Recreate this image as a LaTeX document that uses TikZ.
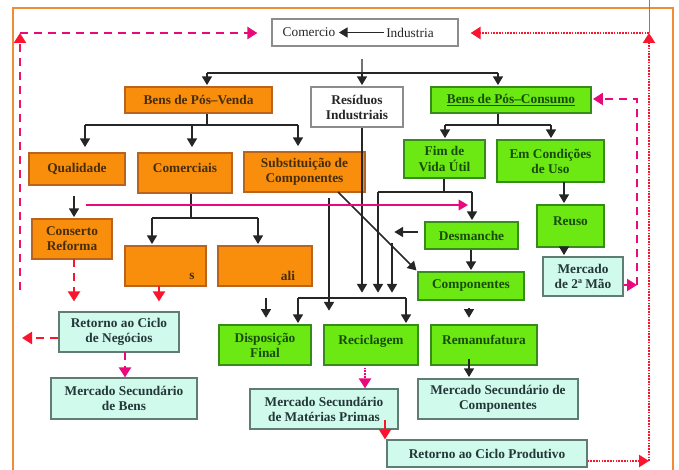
\documentclass[tikz,border=0pt]{standalone}
\usepackage{fontspec}
\setmainfont{Liberation Serif}
\usetikzlibrary{arrows.meta,calc}

\definecolor{orfill}{RGB}{248,142,12}
\definecolor{ordraw}{RGB}{185,100,30}
\definecolor{ortext}{RGB}{70,45,10}
\definecolor{grfill}{RGB}{108,232,18}
\definecolor{grdraw}{RGB}{55,140,25}
\definecolor{grtext}{RGB}{25,75,10}
\definecolor{cyfill}{RGB}{208,250,236}
\definecolor{cydraw}{RGB}{95,125,115}
\definecolor{cytext}{RGB}{35,55,55}
\definecolor{framec}{RGB}{240,140,55}
\definecolor{magc}{RGB}{232,10,125}
\definecolor{redc}{RGB}{250,20,45}
\definecolor{pinkc}{RGB}{240,20,90}

% box given by its corners (x1,y1) and (x2,y2)
\newcommand\placebox[7]{%
  \node[#1, minimum width={(#5-#3)*0.75pt}, minimum height={(#6-#4)*0.75pt}]
    (#2) at ({(#3+#5)/2},{(#4+#6)/2}) {#7};}
% label set a little above the middle of its box
\newcommand\upper[1]{\raisebox{8pt}{#1}}

\tikzset{
  box/.style={draw, line width=0.9pt, inner sep=1pt, align=center},
  orbox/.style={box, fill=orfill, draw=ordraw, text=ortext},
  grbox/.style={box, fill=grfill, draw=grdraw, text=grtext},
  cybox/.style={box, fill=cyfill, draw=cydraw, text=cytext},
  whbox/.style={box, fill=white, draw=black!45, text=black!85},
  plaintext/.style={inner sep=1.5pt},
  conn/.style={line width=1.1pt, draw=black!85},
  arr/.style={conn, -{Triangle[width=7.5pt,length=6.5pt]}, shorten >=1pt},
  bigtip/.style={-{Triangle[width=9pt,length=7.5pt]}},
  redtip/.style={-{Triangle[width=9pt,length=7.5pt,color=redc]}},
  magdash/.style={draw=magc, line width=1.7pt, dash pattern=on 6pt off 4.5pt},
  reddash/.style={draw=redc, line width=1.7pt, dash pattern=on 6pt off 4.5pt},
  pinkdash/.style={draw=pinkc, line width=1.7pt, dash pattern=on 6pt off 4.5pt},
  reddot/.style={draw=redc, line width=1.7pt, dash pattern=on 1.2pt off 0.9pt},
  magdot/.style={draw=magc, line width=1.7pt, dash pattern=on 1.2pt off 0.9pt},
}

\begin{document}
\begin{tikzpicture}[x=0.75pt, y=-0.75pt,
  font=\fontsize{10}{11.3}\selectfont\bfseries]
\useasboundingbox (0,0) rectangle (679,470);

% outer frame
\draw[framec, line width=1.5pt] (13,470) -- (13,8) -- (673,8) -- (673,470);
\draw[black!50, line width=0.6pt] (649,0) -- (649,33);

% ---------------- boxes ----------------
\placebox{whbox}{com}{272}{19}{458}{46}{}
\node[plaintext, font=\fontsize{10}{11}\selectfont, text=black!85] (comT) at (309,32.5) {Comercio};
\node[plaintext, font=\fontsize{10}{11}\selectfont, text=black!85] (indT) at (410,32.5) {Industria};

\placebox{orbox}{pv}{125}{87}{272}{113}{Bens de Pós–Venda}
\placebox{whbox}{ri}{311}{87}{403}{127}{Resíduos\\Industriais}
\placebox{grbox}{bpc}{431}{87}{591}{113}{\underline{Bens de Pós–Consumo}}

\placebox{orbox}{qual}{29}{153}{125}{185}{Qualidade}
\placebox{orbox}{com2}{138}{153}{232}{193}{\upper{Comerciais}}
\placebox{orbox}{sub}{244}{152}{365}{192}{Substituição de\\Componentes}
\placebox{orbox}{cons}{32}{219}{112}{259}{Conserto\\Reforma}
\placebox{orbox}{sbox}{125}{246}{206}{286}{}
\placebox{orbox}{abox}{218}{246}{312}{286}{}
\node[plaintext, text=ortext] (sT) at (192,276) {s};
\node[plaintext, text=ortext] (aT) at (288,276) {ali};

\placebox{cybox}{rcn}{59}{312}{179}{352}{Retorno ao Ciclo\\de Negócios}
\placebox{cybox}{msb}{51}{378}{197}{419}{Mercado Secundário\\de Bens}

\placebox{grbox}{fim}{404}{140}{485}{178}{Fim de\\Vida Útil}
\placebox{grbox}{emc}{497}{140}{604}{182}{Em Condições\\de Uso}
\placebox{grbox}{desm}{425}{222}{518}{249}{Desmanche}
\placebox{grbox}{comp}{418}{272}{524}{300}{Componentes}
\placebox{grbox}{reuso}{537}{205}{604}{247}{\upper{Reuso}}
\placebox{cybox}{m2m}{543}{257}{623}{296}{Mercado\\de 2ª Mão}

\placebox{grbox}{disp}{219}{325}{311}{365}{Disposição\\Final}
\placebox{grbox}{recic}{324}{325}{418}{365}{\upper{Reciclagem}}
\placebox{grbox}{reman}{431}{325}{537}{365}{\upper{Remanufatura}}
\placebox{cybox}{msc}{418}{379}{578}{419}{Mercado Secundário de\\Componentes}
\placebox{cybox}{msmp}{250}{389}{398}{429}{Mercado Secundário\\de Matérias Primas}
\placebox{cybox}{rcp}{387}{440}{587}{467}{Retorno ao Ciclo Produtivo}

% ---------------- black connectors ----------------
\draw[arr] (indT.west) -- (comT.east);

% top distribution
\coordinate (tL) at (207,73);
\coordinate (tM) at (362,73);
\coordinate (tR) at (498,73);
\draw[black!55, line width=0.8pt, shorten <=9pt] (com.south -| tM) -- (tM);
\draw[conn] (tL) -- (tR);
\draw[arr] (tL) -- (tL |- pv.north);
\draw[arr] (tM) -- (tM |- ri.north);
\draw[arr] (tR) -- (tR |- bpc.north);

% Bens de Pos-Venda branches
\coordinate (pvJ) at (207,125);
\coordinate (pvL) at (85,125);
\coordinate (pvC) at (192,125);
\coordinate (pvR) at (298,125);
\draw[conn] (pvJ |- pv.south) -- (pvJ);
\draw[conn] (pvL) -- (pvR);
\draw[arr, shorten >=4pt] (pvL) -- (pvL |- qual.north);
\draw[arr, shorten >=4pt] (pvC) -- (pvC |- com2.north);
\draw[arr, shorten >=4pt] (pvR) -- (pvR |- sub.north);

% Bens de Pos-Consumo branches
\coordinate (bJ) at (498,125);
\coordinate (bL) at (445,125);
\coordinate (bR) at (551,125);
\draw[conn] (bJ |- bpc.south) -- (bJ);
\draw[conn] (bL) -- (bR);
\draw[arr] (bL) -- (bL |- fim.north);
\draw[arr] (bR) -- (bR |- emc.north);

% Qualidade -> Conserto
\coordinate (qx) at (74,185);
\draw[arr, shorten <=8pt] (qx) -- (qx |- cons.north);

% Comerciais branches
\coordinate (cJ) at (191,218);
\coordinate (cL) at (152,218);
\coordinate (cR) at (258,218);
\draw[conn] (cJ |- com2.south) -- (cJ);
\draw[conn] (cL) -- (cR);
\draw[arr] (cL) -- (cL |- sbox.north);
\draw[arr] (cR) -- (cR |- abox.north);

% Fim de Vida Util distribution
\coordinate (fJ) at (444,192);
\coordinate (fL) at (378,192);
\coordinate (fR) at (472,192);
\draw[conn, line width=2.2pt] (fJ |- fim.south) -- (fJ);
\draw[conn] (fL) -- (fR);
\draw[arr] (fR) -- (fR |- desm.north);

% collecting bar above Disposicao / Reciclagem
\coordinate (hbL) at (298,298);
\coordinate (hbR) at (406,298);
\draw[conn] (hbL) -- (hbR);
\draw[arr, shorten >=4pt] (fL) -- (fL |- hbL);
\draw[arr, shorten >=4pt] (tM |- ri.south) -- (tM |- hbL);
\coordinate (dA) at (393,232);
\draw[arr, shorten <=5pt] (desm.west |- dA) -- (dA);
\coordinate (dV) at (392,243);
\draw[arr, shorten >=4pt] (dV) -- (dV |- hbL);
\draw[arr] (hbL) -- (hbL |- disp.north);
\draw[arr] (hbR) -- (hbR |- recic.north);

% Substituicao de Componentes
\coordinate (sVe) at (329,312);
\draw[arr, shorten <=4pt] (sub.south -| sVe) -- (sVe);
\coordinate (dg) at (338,192);
\draw[arr] (dg) -- (comp.north west);

% ali -> Disposicao
\coordinate (ax) at (266,286);
\draw[arr, shorten <=9pt, shorten >=5pt] (ax) -- (ax |- disp.north);

% right-hand chain
\draw[arr] (desm.south -| comp.north) -- (comp.north);
\coordinate (cx) at (469,300);
\draw[arr, shorten <=6pt, shorten >=5pt] (cx) -- (cx |- reman.north);
\draw[arr, shorten <=-5pt] (cx |- reman.south) -- (cx |- msc.north);
\coordinate (erx) at (564,182);
\draw[arr] (erx) -- (erx |- reuso.north);
\draw[arr] (erx |- reuso.south) -- (erx |- m2m.north);

% ---------------- coloured flows ----------------
% horizontal magenta line to Desmanche
\coordinate (mgS) at (86,205);
\coordinate (mgE) at (468,205);
\draw[magc, line width=1pt, -{Triangle[width=8pt,length=7pt]}] (mgS) -- (mgE);

% Conserto and s -> Retorno ao Ciclo de Negocios
\coordinate (c1) at (74,259);
\draw[reddash, bigtip, shorten >=7.5pt] (c1) -- (c1 |- rcn.north);
\coordinate (s1) at (159,286);
\draw[reddash, bigtip, shorten >=7.5pt] (s1) -- (s1 |- rcn.north);

% Retorno ao Ciclo de Negocios
\coordinate (rl) at (22,338);
\draw[reddash, bigtip] (rcn.west |- rl) -- (rl);
\coordinate (rx) at (125,352);
\draw[magdash, bigtip] (rx) -- (rx |- msb.north);

% left loop back to Comercio
\coordinate (lB) at (20,290);
\coordinate (lT) at (20,33);
\draw[pinkdash, redtip] (lB) -- (lT);
\draw[magdash, bigtip, shorten >=10.5pt] (lT) -- (com.west |- lT);

% Mercado de 2a Mao loop back to Bens de Pos-Consumo
\coordinate (mR) at (637,285);
\coordinate (mT) at (637,99);
\draw[magdash, bigtip] (m2m.east |- mR) -- (mR);
\draw[magdash, bigtip, shorten >=1pt] (mR) -- (mT) -- (bpc.east |- mT);

% Reciclagem -> Mercado Secundario de Materias Primas -> Retorno ao Ciclo Produtivo
\coordinate (rmx) at (365,365);
\draw[magdot, bigtip, shorten <=2pt] (rmx) -- (rmx |- msmp.north);
\coordinate (mrx) at (385,429);
\draw[redc, line width=1.2pt, bigtip, shorten <=-7pt] (mrx) -- (mrx |- rcp.north);

% right loop back to Industria
\coordinate (rB) at (649,461);
\coordinate (rT) at (649,33);
\draw[reddot, bigtip] (rcp.east |- rB) -- (rB);
\draw[reddot, bigtip] (rB) -- (rT);
\draw[reddot, bigtip, shorten >=9pt] (rT) -- (com.east |- rT);
\end{tikzpicture}
\end{document}
